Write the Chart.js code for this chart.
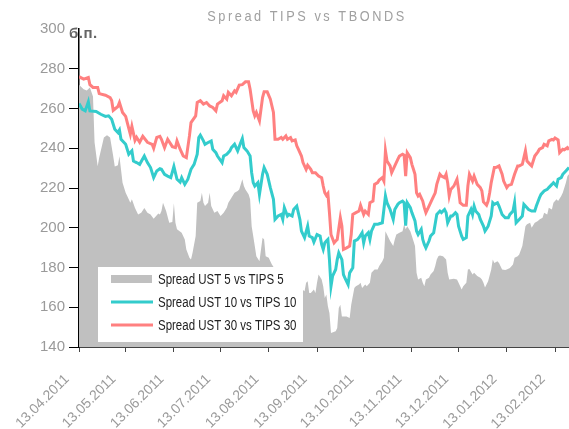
<!DOCTYPE html>
<html><head><meta charset="utf-8">
<script src="https://cdn.jsdelivr.net/npm/chart.js@4.4.0/dist/chart.umd.min.js"></script>
<style>html,body{margin:0;padding:0;background:#fff;}#wrap{position:relative;width:569px;height:429px;}</style>
</head><body><div id="wrap"><canvas id="c" width="569" height="429"></canvas></div>
<script>
const titleText = 'Spread TIPS vs TBONDS';
const unitText = 'б.п.';
const seriesNames = ['Spread UST 5 vs TIPS 5', 'Spread UST 10 vs TIPS 10', 'Spread UST 30 vs TIPS 30'];
const tickDays = [0, 30, 61, 91, 122, 153, 183, 214, 244, 275, 306];
const tickLabels = ['13.04.2011','13.05.2011','13.06.2011','13.07.2011','13.08.2011','13.09.2011','13.10.2011','13.11.2011','13.12.2011','13.01.2012','13.02.2012'];
const yTicks = [140, 160, 180, 200, 220, 240, 260, 280, 300];

// days counted from 13.04.2011
const days5 = [0,3,5,7,9,10,12,13,16,18,20,22,23,25,26,28,30,31,33,34,36,38,40,42,44,46,48,51,52,53,54,56,58,60,61,62,63,66,68,69,71,72,73,75,76,78,79,80,81,83,84,85,87,89,91,93,95,96,98,100,102,103,105,106,107,109,110,111,112,113,114,116,117,118,119,120,122,123,124,127,131,134,138,142,145,146,147,148,149,151,152,153,154,156,157,158,159,160,161,162,165,166,167,168,169,172,174,175,177,178,180,181,182,184,185,187,188,190,192,193,195,196,197,198,200,202,203,204,206,208,209,210,211,213,214,216,217,218,220,221,222,223,225,226,228,229,230,231,232,234,236,237,238,241,243,244,246,247,249,250,251,253,254,256,258,259,260,261,263,265,266,267,269,270,272,274,275,277,279,280,282,283,285,287,288,290,291,293,295,296,298,299,301,302,304,305,307,308,310,311,313,314,315];
const spread5 = [272,269.7,269,270.6,266,243,231,235.3,245.4,246.6,245.4,236,230.8,231.4,236,222.7,217.6,216,212.6,214.3,210,206.7,207.6,210,207.6,206.7,204.5,207.2,206.7,208.4,212.6,208.4,202.5,202.9,212.3,202.5,199.2,197.5,194.1,189.1,184.9,184,187.4,195.8,212.6,213.4,217.6,212.6,210.9,212.6,217.6,210.9,207.6,208.4,205.9,207.6,210.1,212.6,215.1,217.6,218.5,219.3,224.4,221,219.3,216.8,214.3,200.8,195.8,190.8,185.7,183.2,189.1,195,194.1,185.7,184.9,183.2,181.5,178,176,174,172,170,168,172.3,173.1,167.2,167.2,168.9,167.2,172.3,176.5,174,170.6,164.7,166.4,160.5,157.1,147,147.9,149.5,159.6,161.3,155.4,155.4,154.6,161.3,169.7,170.6,171.4,172.3,169.7,171.4,170.6,172.3,177.3,179,179,180.7,183.2,184.9,198.3,196.6,193.3,190.8,194.1,196.6,197.5,198.3,201.7,199.2,200.8,198.3,195.8,190.8,177.3,174,174.8,172.3,170.6,174,174.8,176.5,178.2,180.7,184,185.7,186,185.7,184,177.3,174,174.3,174,172.3,168.9,170.6,172.3,179,179.3,176.5,177.3,175.7,174.8,174,172.3,170,173.1,179,184,182.3,183.2,182.3,179,178.7,179,179.8,181.5,184.9,185.7,186.6,190.8,200.8,201.7,202.5,200,202.5,203.4,204.2,205,207.6,206.7,210.1,209.2,212.6,214.3,213.4,216,217.6,222.7,226,226.9];

const days10 = [0,2,4,6,7,11,14,17,19,21,23,25,26,27,30,32,34,35,37,39,42,44,46,48,50,52,53,55,57,59,61,63,65,66,68,70,72,74,76,77,78,80,81,83,85,86,88,89,92,93,95,97,98,100,102,104,105,106,108,110,111,112,113,115,116,118,119,121,123,125,126,128,130,131,132,134,135,137,138,140,142,143,145,147,148,150,151,153,155,156,157,158,159,160,161,162,163,165,166,167,169,170,171,173,174,176,177,179,180,182,183,184,186,187,188,190,192,193,195,196,197,198,200,202,203,205,206,208,209,210,211,213,214,216,217,218,220,221,222,223,225,226,228,230,232,233,235,236,237,239,240,242,243,244,246,247,249,250,252,253,254,255,257,258,260,261,262,263,265,266,267,269,270,272,274,276,277,279,280,281,283,285,286,288,289,291,293,294,296,297,299,301,302,304,305,307,308,310,311,313,315];
const spread10 = [262.5,259.7,258.8,263.4,258.8,258.5,257.1,256,256.3,254.6,249.6,247.9,249.2,244.5,242,237,238.7,233.6,232.8,231.9,236.1,232.8,230.3,225.2,228.6,229.7,229.4,226.9,226,225.2,230.8,224.4,223,225.2,221.8,224.4,229.4,231.9,237,245.4,246.6,243.7,242,242.9,243.7,239.5,237.8,236.1,232.8,236.1,237,238.7,240.3,242,238.7,242.9,244.9,240.3,238.7,236.1,227.7,222.7,221,222.7,216.8,226.9,230.3,226.9,220.2,214.3,204.2,205.9,206.7,204.2,210.1,205.9,206.7,205.9,209.2,210.9,204.2,198.3,195,200.8,195.8,195,192.8,196.6,195.8,191.6,189.1,192.4,193.3,194.1,184,170.6,175.6,179,184,187.4,184,176.4,174.7,171.4,177.3,179.8,193.3,194.1,195,197.5,192.4,195.8,197.5,194.1,198.3,201.7,201.7,202,202.5,209.2,216,212.6,209.2,204.2,209.2,211.8,212.6,213.4,212.6,201,212.6,210.1,207.6,203.4,198.3,196.6,199.2,194.1,191.6,189.9,193.3,195.8,197.5,206.7,208.4,207.6,209.2,207.6,202.5,205.9,205.9,207.6,206.7,200.8,195.8,194.1,195,205.9,209.2,206.7,210.9,208.4,206.7,204.2,200.8,198.3,199.5,200.8,205.9,212.6,211.8,212.6,210.9,206.7,205,205,206.7,208.4,212.6,202.5,204.2,205.9,211.8,210.1,209.2,208.4,208.4,210.9,215.1,216.8,218.5,219.3,220.2,221.8,222.7,221,224.4,225.2,226.9,228.6,230.3];

const days30 = [0,3,6,7,9,12,13,17,20,21,22,25,26,28,30,32,33,34,36,37,39,41,44,47,48,50,52,53,55,57,60,62,63,65,67,69,71,72,75,76,78,80,82,84,86,88,89,92,93,95,96,98,100,101,103,105,107,109,110,112,113,114,116,118,119,121,123,125,126,128,130,131,133,134,136,137,139,140,141,143,144,146,147,149,150,152,154,156,157,158,159,160,161,162,164,165,166,168,169,170,172,174,175,176,178,180,181,183,184,186,187,189,190,192,193,195,196,197,198,200,201,203,205,206,208,209,210,211,213,214,215,216,217,218,219,221,222,223,225,227,229,230,232,233,235,236,237,238,239,241,243,244,245,247,249,250,251,253,254,256,258,259,260,262,263,264,265,267,268,270,272,273,275,276,278,280,282,283,285,287,288,290,291,293,295,296,298,299,301,302,304,305,306,308,309,311,312,314,315];
const spread30 = [276,274.8,275.6,272,270.6,270.6,267.5,266.7,265.5,264,259,261,263,258,256,250,247,251,244,245.5,243,246,243,242,240,245.5,246,244.5,240.3,244.5,240.8,240.3,243.7,239.5,236.1,235.3,246.2,252.9,256.3,263,263.9,262.2,263,261.3,260.5,258.8,262.2,263.9,266.4,264.7,268.1,266.4,268.9,268.1,271.8,272,273.4,273.4,269.7,258.8,256.3,258,253.8,265.5,268.4,268.4,264.7,258,244.5,244.5,245.4,244.5,246.2,244.5,245.4,243.7,244.2,241.2,239.5,236.1,232.8,229.4,231.4,229.4,227.7,227.7,226,225.2,221,217.6,216.3,217.3,207.6,196.6,192.4,193.3,194.1,205,200.8,189.1,189.9,190.8,196.6,206.7,207.6,208.4,211.3,206.7,208.4,206.7,212.6,213.4,221.8,222.7,224,225.2,223.5,238.7,233.6,231.1,227.7,231.1,234.5,236.1,237,236.5,226,237.8,235.3,231.9,229.4,226.9,217.6,216,216.8,213.4,210.1,207.6,210.9,214.3,217.6,221.8,226.9,226,225.2,226.9,222.7,216,219.3,221,224.4,219.3,212.6,211.3,211.3,221,226.9,223.5,226,221.8,220.2,218.5,213,211.3,213.4,217.6,222.7,230.3,230.3,231.1,226.9,223.5,220.2,221.3,221.8,226.9,231.1,231.1,231.9,238.7,233.6,231.9,231.1,236.1,238.2,239.5,240.3,242,241.2,243.7,244.5,244.2,245.2,244.2,237.8,239.5,239.2,240.3,239.2];

const colors = ['#c0c0c0', '#33cccc', '#ff8080'];
const FONT = '"Liberation Sans", Arial, sans-serif';

function pts(d, v) { return d.map((x, i) => ({ x: x, y: v[i] })); }

const decor = {
  id: 'decor',
  afterDraw(chart) {
    const ctx = chart.ctx, ca = chart.chartArea;
    ctx.save();
    ctx.fillStyle = '#a0a0a0';
    ctx.font = '15px ' + FONT;
    ctx.textBaseline = 'middle';
    ctx.textAlign = 'center';
    ctx.letterSpacing = '3px';
    ctx.translate(307, 17);
    ctx.scale(0.85, 1);
    ctx.fillText(titleText, 0, 0);
    ctx.restore();
    ctx.save();
    ctx.fillStyle = '#666666';
    ctx.font = 'bold 15px ' + FONT;
    ctx.textBaseline = 'alphabetic';
    ctx.textAlign = 'left';
    ctx.letterSpacing = '0.5px';
    ctx.fillText(unitText, ca.left - 10, ca.top + 9);
    ctx.restore();
    const lx = ca.left + 19, ly = ca.bottom - 80, lw = 205, lh = 75;
    ctx.save();
    ctx.fillStyle = '#ffffff';
    ctx.fillRect(lx, ly, lw, lh);
    const rows = [ly + 12, ly + 35, ly + 58];
    seriesNames.forEach((name, i) => {
      const y = rows[i];
      if (i === 0) {
        ctx.fillStyle = colors[0];
        ctx.fillRect(lx + 13, y - 4, 41, 8);
      } else {
        ctx.strokeStyle = colors[i];
        ctx.lineWidth = 3;
        ctx.beginPath();
        ctx.moveTo(lx + 13, y);
        ctx.lineTo(lx + 55, y);
        ctx.stroke();
      }
      ctx.save();
      ctx.fillStyle = '#222222';
      ctx.font = '14px ' + FONT;
      ctx.textBaseline = 'middle';
      ctx.textAlign = 'left';
      ctx.translate(lx + 60, y + 1);
      ctx.scale(0.82, 1);
      ctx.fillText(name, 0, 0);
      ctx.restore();
    });
    ctx.restore();
  }
};

new Chart(document.getElementById('c'), {
  type: 'line',
  data: {
    datasets: [
      { label: seriesNames[2], data: pts(days30, spread30), borderColor: colors[2], borderWidth: 3, pointRadius: 0, fill: false, tension: 0, order: 0 },
      { label: seriesNames[1], data: pts(days10, spread10), borderColor: colors[1], borderWidth: 3, pointRadius: 0, fill: false, tension: 0, order: 1 },
      { label: seriesNames[0], data: pts(days5, spread5), borderColor: colors[0], backgroundColor: colors[0], borderWidth: 0, pointRadius: 0, fill: 'start', tension: 0, order: 2 }
    ]
  },
  options: {
    responsive: false,
    animation: false,
    layout: { padding: { top: 29, right: 0, bottom: 0, left: 0 } },
    plugins: { legend: { display: false }, title: { display: false }, tooltip: { enabled: false } },
    scales: {
      x: {
        type: 'linear', min: 0, max: 315,
        border: { display: true, color: '#444444', width: 2 },
        grid: { display: true, drawOnChartArea: false, drawTicks: true, tickLength: 5, color: '#444444', lineWidth: 1 },
        afterBuildTicks: (s) => { s.ticks = tickDays.map(v => ({ value: v })); },
        afterFit: (s) => { s.height = 82; s.paddingRight = 0; s.paddingLeft = 0; },
        ticks: {
          autoSkip: false, maxRotation: 45, minRotation: 45, padding: 19, labelOffset: -12,
          color: '#9a9a9a', font: { family: FONT, size: 14 },
          callback: (v) => { const i = tickDays.indexOf(v); return i >= 0 ? tickLabels[i] : ''; }
        }
      },
      y: {
        min: 140, max: 300,
        border: { display: true, color: '#000000', width: 1.5 },
        grid: { display: true, drawOnChartArea: false, drawTicks: true, tickLength: 10, color: (c) => (c.tick && c.tick.value === 300 ? 'rgba(0,0,0,0)' : '#000000') },
        afterBuildTicks: (s) => { s.ticks = yTicks.map(v => ({ value: v })); },
        afterFit: (s) => { s.width = 79; },
        ticks: { color: '#9a9a9a', padding: 4, font: { family: FONT, size: 15 } }
      }
    }
  },
  plugins: [decor]
});
</script>
</body></html>
